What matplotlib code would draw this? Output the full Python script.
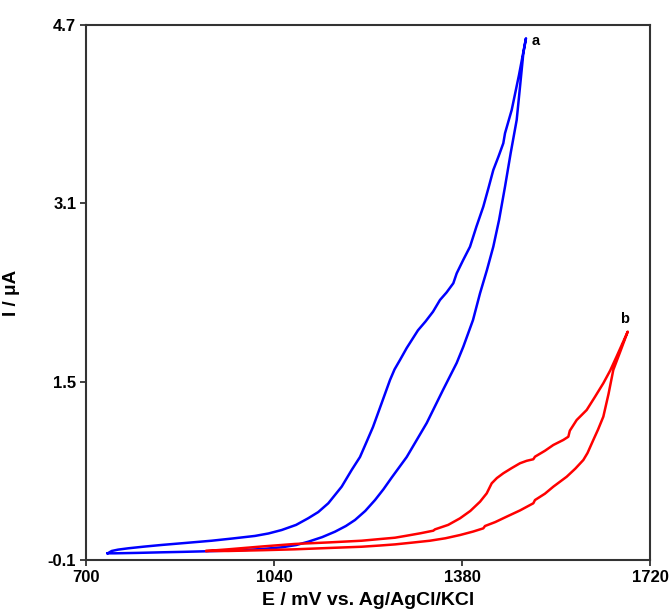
import matplotlib
matplotlib.use("Agg")
import matplotlib.pyplot as plt

plt.rcParams['font.family'] = ['Liberation Sans', 'DejaVu Sans']

# Curve a (blue): lower branch up to the vertex, then upper branch back
a_E = [739.2, 752.4, 795, 836.9, 875, 915.2, 950, 987.6, 1022, 1053.9, 1080, 1102,
       1127, 1150.3, 1170, 1186.5, 1205, 1222.7, 1238, 1252.9, 1280, 1316.2,
       1345.6, 1370.4, 1382.4, 1399.9, 1412.6, 1425, 1436.6, 1447, 1457.8, 1468,
       1478.9, 1485, 1490.9, 1495.7,
       1483, 1469.9, 1457.8, 1454.7, 1446, 1436.6, 1428, 1418.5, 1406, 1394.5,
       1382, 1370.4, 1364.3, 1352, 1340.2, 1327.6, 1314, 1300.4, 1290, 1280,
       1267.9, 1258, 1249.8, 1234.8, 1219, 1207, 1195.5, 1180.5, 1162.4, 1138.2,
       1120, 1102, 1080, 1053.9, 1030, 1005.6, 965, 927.3, 880, 836.9, 805,
       776.5, 758, 746.5, 739.2]
a_I = [-0.040, -0.040, -0.036, -0.031, -0.027, -0.022, -0.017, -0.010, 0.000,
       0.014, 0.034, 0.064, 0.105, 0.154, 0.205, 0.259, 0.340, 0.438, 0.535,
       0.640, 0.824, 1.129, 1.425, 1.668, 1.814, 2.053, 2.293, 2.500, 2.711,
       2.950, 3.250, 3.550, 3.848, 4.150, 4.446, 4.581,
       4.250, 3.938, 3.729, 3.639, 3.520, 3.399, 3.240, 3.070, 2.890, 2.711,
       2.590, 2.472, 2.383, 2.300, 2.233, 2.128, 2.040, 1.961, 1.880, 1.802,
       1.695, 1.610, 1.515, 1.309, 1.093, 0.955, 0.824, 0.708, 0.558, 0.409,
       0.330, 0.275, 0.215, 0.169, 0.138, 0.116, 0.093, 0.073, 0.053, 0.035,
       0.020, 0.005, -0.007, -0.019, -0.040]

# Curve b (red): lower branch up to the vertex, then upper branch back
b_E = [918.3, 957.4, 1020, 1078, 1140, 1198.6, 1231.7, 1258.8, 1290, 1322.1,
       1350, 1376.4, 1400, 1418.5, 1421.6, 1440, 1460.8, 1485, 1509, 1512,
       1530, 1545.2, 1569.3, 1585, 1599.4, 1607, 1617.5, 1626, 1635.6, 1645,
       1653.6, 1667, 1679.7,
       1660, 1648, 1635.6, 1620, 1605.5, 1587.4, 1575, 1572.3, 1563.2, 1545.2,
       1530, 1512, 1509, 1497, 1484.9, 1470, 1454.7, 1443, 1433.7, 1424.7,
       1412.6, 1395, 1376.4, 1355, 1331.2, 1328, 1305, 1280, 1258.8, 1231.7,
       1198.6, 1140, 1078, 1020, 957.4, 918.3]
b_I = [-0.019, -0.019, -0.012, -0.004, 0.008, 0.019, 0.030, 0.040, 0.056, 0.073,
       0.095, 0.124, 0.155, 0.184, 0.205, 0.240, 0.289, 0.345, 0.409, 0.438,
       0.495, 0.558, 0.647, 0.720, 0.797, 0.860, 0.977, 1.070, 1.186, 1.390,
       1.605, 1.780, 1.949,
       1.730, 1.600, 1.486, 1.360, 1.246, 1.156, 1.060, 1.006, 0.977, 0.932,
       0.880, 0.827, 0.804, 0.790, 0.768, 0.725, 0.678, 0.635, 0.588, 0.498,
       0.423, 0.340, 0.274, 0.215, 0.175, 0.163, 0.140, 0.118, 0.100, 0.088,
       0.073, 0.058, 0.044, 0.022, -0.004, -0.019]

x_ticks = [700, 1040, 1380, 1720]
y_ticks = [-0.1, 1.5, 3.1, 4.7]
y_tick_labels = ['-0.1', '1.5', '3.1', '4.7']

fig = plt.figure(figsize=(6.7, 6.13), dpi=100)
ax = fig.add_axes([86/670, 1-560/613, 564/670, 535/613])

ax.plot(a_E, a_I, color='#0000ff', lw=1.8, solid_joinstyle='round')
ax.plot(b_E, b_I, color='#ff0000', lw=1.8, solid_joinstyle='round')

ia = a_I.index(max(a_I))
ib = b_I.index(max(b_I))
ax.annotate('a', xy=(a_E[ia], a_I[ia]), xytext=(4, -2), textcoords='offset points',
            fontsize=10.5, fontweight='bold', va='center', ha='left')
ax.annotate('b', xy=(b_E[ib], b_I[ib]), xytext=(-2, 9), textcoords='offset points',
            fontsize=10.5, fontweight='bold', va='center', ha='center')

ax.set_xlim(700, 1720)
ax.set_ylim(-0.1, 4.7)
ax.set_xticks(x_ticks)
ax.set_xticklabels([str(t) for t in x_ticks])
ax.set_yticks(y_ticks)
ax.set_yticklabels(y_tick_labels)
ax.tick_params(direction='out', length=4, width=1.3, color='#333333',
               labelsize=12, pad=3)
for lab in ax.get_xticklabels() + ax.get_yticklabels():
    lab.set_fontweight('bold')
for s in ax.spines.values():
    s.set_linewidth(1.5)
    s.set_color('#333333')

ax.set_xlabel('E / mV vs. Ag/AgCl/KCl', fontsize=14, fontweight='bold', labelpad=5)
ax.set_ylabel('I / μA', fontsize=13.5, fontweight='bold', labelpad=20)

fig.savefig('out.png', dpi=100)
